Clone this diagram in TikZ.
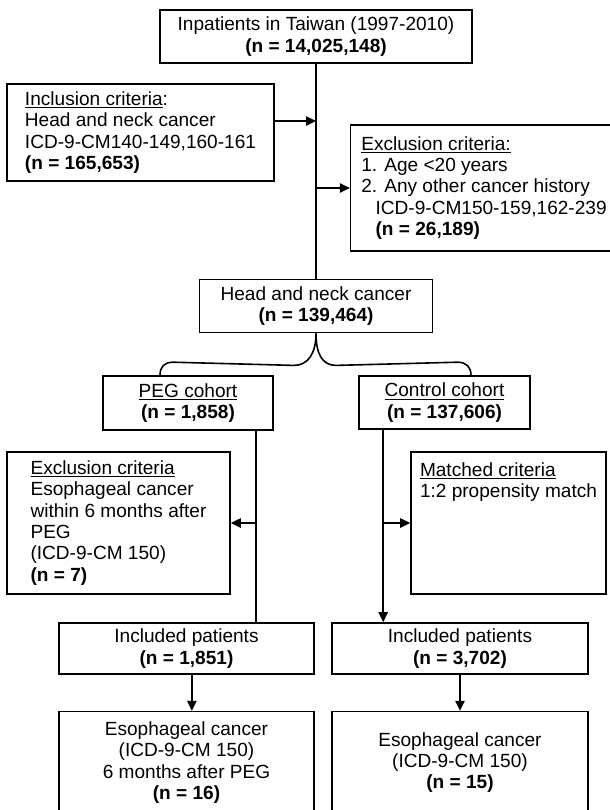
\documentclass[tikz,border=0pt]{standalone}
\usepackage{fontspec}
\setmainfont{Liberation Sans}
\usepackage{tikz}
\usetikzlibrary{arrows.meta,positioning,calc}

\begin{document}
\begin{tikzpicture}[
  x=0.75pt, y=-0.75pt,
  font=\fontsize{14.3pt}{16pt}\selectfont,
  line width=1.2pt,
  box/.style={draw, align=center, inner sep=2pt},
  crit/.style={box, align=left},
  >={Triangle[length=7.5pt,width=7pt]}]
\useasboundingbox (0,0) rectangle (610,810);
\clip (0,0) rectangle (610,810);
\node[box, minimum width=234pt, minimum height=39.75pt] (top) at (316,36.5)
  {Inpatients in Taiwan (1997-2010)\\\textbf{(n = 14,025,148)}};
\node[crit, minimum width=200.25pt, minimum height=72.75pt] (incl) at (140.5,132.5)
  {\underline{Inclusion criteria}:\\Head and neck cancer\\ICD-9-CM140-149,160-161\\\textbf{(n = 165,653)}};
\node[crit, minimum width=200pt, minimum height=94.5pt] (excl) at (484,188)
  {\underline{Exclusion criteria:}\\1. Age <20 years\\2. Any other cancer history\\\hspace*{0.75em}ICD-9-CM150-159,162-239\\\hspace*{0.75em}\textbf{(n = 26,189)}};
\node[box, minimum width=174.75pt, minimum height=39.75pt, below=161.25pt of top] (hn)
  {Head and neck cancer\\\textbf{(n = 139,464)}};
\node[box, minimum width=127.5pt, minimum height=40.5pt] (peg) at (188,403)
  {\underline{PEG cohort}\\\textbf{(n = 1,858)}};
\node[box, minimum width=128.25pt, minimum height=39.75pt] (ctrl) at (444.5,402.5)
  {\underline{Control cohort}\\\textbf{(n = 137,606)}};
\node[crit, minimum width=167.25pt, minimum height=106.5pt] (excl2) at (118.5,523)
  {\underline{Exclusion criteria}\\Esophageal cancer\\within 6 months after\\PEG\\(ICD-9-CM 150)\\\textbf{(n = 7)}};
\node[crit, minimum width=146.25pt, minimum height=106.5pt] (match) at (508.5,523)
  {\underline{Matched criteria}\\1:2 propensity match\\~\\~\\~\\~};
\node[box, minimum width=191.25pt, minimum height=38.25pt] (inclL) at (186.5,648.5)
  {Included patients\\\textbf{(n = 1,851)}};
\node[box, minimum width=192pt, minimum height=38.25pt] (inclR) at (460,648.5)
  {Included patients\\\textbf{(n = 3,702)}};
\node[box, minimum width=191.25pt, minimum height=76.5pt, below=27pt of inclL] (esoL)
  {Esophageal cancer\\(ICD-9-CM 150)\\6 months after PEG\\\textbf{(n = 16)}};
\node[box, minimum width=192pt, minimum height=76.5pt, below=27pt of inclR] (esoR)
  {Esophageal cancer\\(ICD-9-CM 150)\\\textbf{(n = 15)}};
\coordinate (pegd) at ([xshift=-13.5pt]peg.south east);
\coordinate (ctrld) at ([xshift=18.75pt]ctrl.south west);
\draw (top) -- (hn);
\draw[->] ([yshift=8.6pt]incl.east) -- ([yshift=8.6pt]incl.east -| top.south);
\draw[->] (excl.west -| top.south) -- (excl.west);
\draw (hn.south) .. controls +(0,20) and +(14,0) .. ($(hn.south)+(-22,32)$)
  -- ($(peg.north)+(-15,-13)$) .. controls +(-9,0) and +(0,-8) .. ($(peg.north)+(-28,0)$);
\draw (hn.south) .. controls +(0,20) and +(-14,0) .. ($(hn.south)+(20,32)$)
  -- ($(ctrl.north)+(13,-13)$) .. controls +(9,0) and +(0,-8) .. ($(ctrl.north)+(26.5,0)$);
\draw (pegd) -- (pegd |- inclL.north);
\draw[->] (excl2.east -| pegd) -- (excl2.east);
\draw[->] (ctrld) -- (ctrld |- inclR.north);
\draw[->] (match.west -| ctrld) -- (match.west);
\draw[->] ([xshift=4pt]inclL.south) -- ([xshift=4pt]esoL.north);
\draw[->] (inclR) -- (esoR);
\end{tikzpicture}
\end{document}
